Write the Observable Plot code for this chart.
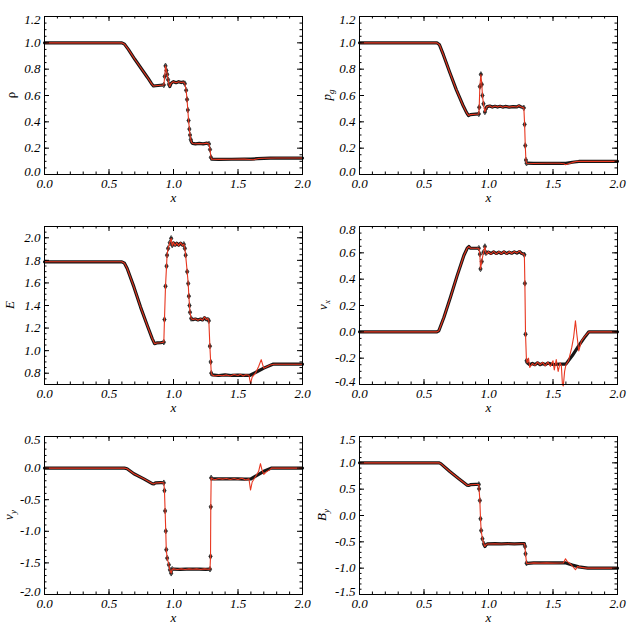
<!DOCTYPE html>
<html><head><meta charset="utf-8">
<script src="https://cdn.jsdelivr.net/npm/d3@7"></script>
<script src="https://cdn.jsdelivr.net/npm/@observablehq/plot@0.6"></script>
<style>
html,body{margin:0;padding:0;background:#fff;}
#grid{position:relative;width:629px;height:629px;overflow:hidden;}
.panel{position:absolute;}
.panel svg{overflow:visible;}
.panel svg text{font-family:'Liberation Serif','Times New Roman',serif;}
</style></head><body><div id="grid"></div>
<script>
// ---------- data ----------
const xTicks = [0, 0.5, 1.0, 1.5, 2.0];

const rhoTicks = [0, 0.2, 0.4, 0.6, 0.8, 1.0, 1.2];
const pgTicks = [0, 0.2, 0.4, 0.6, 0.8, 1.0, 1.2];
const eTicks = [0.8, 1.0, 1.2, 1.4, 1.6, 1.8, 2.0];
const vxTicks = [-0.4, -0.2, 0, 0.2, 0.4, 0.6, 0.8];
const vyTicks = [-2.0, -1.5, -1.0, -0.5, 0, 0.5];
const byTicks = [-1.5, -1.0, -0.5, 0, 0.5, 1.0, 1.5];

const rhoDomain = [0, 1.2];
const pgDomain = [0, 1.2];
const eDomain = [0.7, 2.1];
const vxDomain = [-0.4, 0.8];
const vyDomain = [-2.0, 0.5];
const byDomain = [-1.5, 1.5];

const rhoRed = [[0,1],[0.6,1],[0.62,0.99],[0.65,0.95],[0.7,0.875],[0.75,0.805],[0.8,0.735],[0.83,0.69],[0.845,0.672],[0.86,0.674],[0.9,0.678],[0.925,0.68],[0.932,0.745],[0.938,0.825],[0.945,0.79],[0.951,0.76],[0.958,0.72],[0.965,0.685],[0.971,0.668],[0.98,0.69],[0.99,0.70],[1.0,0.705],[1.02,0.697],[1.04,0.705],[1.06,0.698],[1.075,0.703],[1.088,0.69],[1.098,0.64],[1.105,0.57],[1.111,0.49],[1.117,0.41],[1.123,0.345],[1.128,0.30],[1.134,0.265],[1.14,0.245],[1.148,0.236],[1.17,0.233],[1.2,0.236],[1.23,0.233],[1.26,0.238],[1.275,0.232],[1.283,0.19],[1.29,0.13],[1.296,0.117],[1.35,0.115],[1.45,0.116],[1.55,0.117],[1.59,0.114],[1.62,0.112],[1.66,0.121],[1.7,0.123],[1.8,0.125],[2,0.125]];
const rhoBlack = [[0,1],[0.3,1],[0.6,1],[0.62,0.99],[0.65,0.95],[0.7,0.875],[0.75,0.805],[0.8,0.735],[0.83,0.69],[0.845,0.672],[0.86,0.674],[0.9,0.678],[0.925,0.68],[0.932,0.745],[0.938,0.825],[0.945,0.79],[0.951,0.76],[0.958,0.72],[0.965,0.685],[0.971,0.668],[0.98,0.69],[0.99,0.70],[1.0,0.705],[1.02,0.697],[1.04,0.705],[1.06,0.698],[1.075,0.703],[1.088,0.69],[1.098,0.64],[1.105,0.57],[1.111,0.49],[1.117,0.41],[1.123,0.345],[1.128,0.30],[1.134,0.265],[1.14,0.245],[1.148,0.236],[1.17,0.233],[1.2,0.236],[1.23,0.233],[1.26,0.238],[1.275,0.232],[1.283,0.19],[1.29,0.13],[1.296,0.117],[1.35,0.115],[1.45,0.116],[1.55,0.117],[1.6,0.117],[1.65,0.12],[1.7,0.123],[1.75,0.125],[2,0.125]];

const pgRed = [[0,1],[0.6,1],[0.62,0.985],[0.65,0.91],[0.7,0.775],[0.75,0.645],[0.8,0.53],[0.83,0.47],[0.845,0.448],[0.86,0.455],[0.9,0.458],[0.925,0.46],[0.928,0.51],[0.933,0.668],[0.941,0.76],[0.948,0.684],[0.953,0.6],[0.961,0.537],[0.972,0.475],[0.98,0.50],[0.99,0.516],[1.01,0.522],[1.03,0.51],[1.05,0.52],[1.07,0.512],[1.09,0.52],[1.11,0.51],[1.13,0.518],[1.16,0.512],[1.19,0.517],[1.22,0.513],[1.235,0.524],[1.25,0.515],[1.274,0.506],[1.28,0.38],[1.285,0.22],[1.29,0.11],[1.295,0.086],[1.35,0.084],[1.45,0.085],[1.55,0.085],[1.585,0.082],[1.597,0.074],[1.62,0.082],[1.66,0.094],[1.69,0.1],[1.75,0.1],[2,0.1]];
const pgBlack = [[0,1],[0.3,1],[0.6,1],[0.62,0.985],[0.65,0.91],[0.7,0.775],[0.75,0.645],[0.8,0.53],[0.83,0.47],[0.845,0.448],[0.86,0.455],[0.9,0.458],[0.925,0.46],[0.928,0.51],[0.933,0.668],[0.941,0.76],[0.948,0.684],[0.953,0.6],[0.961,0.537],[0.972,0.475],[0.98,0.50],[0.99,0.516],[1.01,0.52],[1.03,0.512],[1.05,0.518],[1.07,0.512],[1.09,0.518],[1.11,0.512],[1.13,0.517],[1.16,0.512],[1.19,0.516],[1.22,0.513],[1.235,0.522],[1.25,0.515],[1.274,0.506],[1.28,0.38],[1.285,0.22],[1.29,0.11],[1.295,0.086],[1.35,0.084],[1.45,0.085],[1.55,0.085],[1.6,0.085],[1.65,0.093],[1.7,0.099],[1.75,0.1],[2,0.1]];

const eRed = [[0,1.787],[0.6,1.787],[0.62,1.775],[0.641,1.728],[0.693,1.565],[0.744,1.388],[0.796,1.225],[0.835,1.107],[0.853,1.062],[0.87,1.068],[0.9,1.07],[0.925,1.075],[0.93,1.276],[0.938,1.571],[0.946,1.749],[0.95,1.846],[0.958,1.906],[0.971,1.956],[0.982,1.995],[0.99,1.93],[1.0,1.96],[1.012,1.93],[1.025,1.955],[1.04,1.93],[1.055,1.957],[1.07,1.93],[1.08,1.945],[1.088,1.906],[1.094,1.846],[1.106,1.70],[1.114,1.595],[1.119,1.483],[1.124,1.40],[1.128,1.34],[1.137,1.285],[1.15,1.275],[1.17,1.282],[1.19,1.27],[1.21,1.282],[1.225,1.27],[1.24,1.298],[1.255,1.275],[1.265,1.285],[1.274,1.265],[1.282,1.04],[1.288,0.90],[1.293,0.80],[1.3,0.785],[1.32,0.775],[1.35,0.782],[1.38,0.778],[1.41,0.785],[1.44,0.776],[1.47,0.788],[1.5,0.78],[1.52,0.79],[1.54,0.775],[1.56,0.787],[1.585,0.782],[1.597,0.707],[1.61,0.765],[1.635,0.80],[1.66,0.86],[1.68,0.92],[1.69,0.88],[1.70,0.845],[1.72,0.855],[1.75,0.872],[1.78,0.88],[2,0.88]];
const eBlack = [[0,1.787],[0.3,1.787],[0.6,1.787],[0.62,1.775],[0.641,1.728],[0.693,1.565],[0.744,1.388],[0.796,1.225],[0.835,1.107],[0.853,1.062],[0.87,1.068],[0.9,1.07],[0.925,1.075],[0.93,1.276],[0.938,1.571],[0.946,1.749],[0.95,1.846],[0.958,1.906],[0.971,1.956],[0.982,1.995],[0.99,1.935],[1.0,1.955],[1.012,1.935],[1.025,1.952],[1.04,1.935],[1.055,1.952],[1.07,1.935],[1.08,1.942],[1.088,1.906],[1.094,1.846],[1.106,1.70],[1.114,1.595],[1.119,1.483],[1.124,1.40],[1.128,1.34],[1.137,1.285],[1.15,1.275],[1.17,1.28],[1.19,1.272],[1.21,1.28],[1.225,1.272],[1.24,1.292],[1.255,1.275],[1.265,1.282],[1.274,1.265],[1.282,1.04],[1.288,0.90],[1.293,0.80],[1.3,0.785],[1.35,0.78],[1.4,0.785],[1.45,0.78],[1.5,0.783],[1.55,0.78],[1.59,0.78],[1.65,0.815],[1.7,0.845],[1.77,0.88],[2,0.88]];

const vxRed = [[0,0],[0.6,0],[0.615,0.008],[0.654,0.109],[0.705,0.262],[0.757,0.427],[0.809,0.58],[0.835,0.635],[0.848,0.648],[0.86,0.635],[0.9,0.635],[0.925,0.635],[0.933,0.59],[0.938,0.478],[0.948,0.534],[0.961,0.605],[0.972,0.648],[0.98,0.60],[0.99,0.59],[1.0,0.61],[1.02,0.59],[1.04,0.612],[1.06,0.59],[1.08,0.61],[1.1,0.592],[1.12,0.612],[1.14,0.59],[1.16,0.61],[1.18,0.595],[1.2,0.61],[1.22,0.598],[1.24,0.615],[1.255,0.595],[1.272,0.59],[1.278,0.585],[1.282,0.368],[1.287,-0.018],[1.294,-0.21],[1.3,-0.235],[1.31,-0.2],[1.32,-0.27],[1.34,-0.24],[1.36,-0.255],[1.38,-0.23],[1.4,-0.25],[1.42,-0.232],[1.44,-0.258],[1.46,-0.23],[1.48,-0.262],[1.5,-0.22],[1.51,-0.29],[1.525,-0.21],[1.54,-0.3],[1.555,-0.235],[1.565,-0.26],[1.573,-0.40],[1.58,-0.41],[1.59,-0.3],[1.6,-0.25],[1.62,-0.22],[1.645,-0.12],[1.66,-0.04],[1.674,0.084],[1.685,-0.02],[1.7,-0.145],[1.72,-0.07],[1.75,-0.03],[1.778,0],[2,0]];
const vxBlack = [[0,0],[0.3,0],[0.6,0],[0.615,0.008],[0.654,0.109],[0.705,0.262],[0.757,0.427],[0.809,0.58],[0.835,0.635],[0.848,0.648],[0.86,0.635],[0.9,0.635],[0.925,0.635],[0.933,0.59],[0.938,0.478],[0.948,0.534],[0.961,0.605],[0.972,0.648],[0.98,0.60],[1.0,0.605],[1.02,0.595],[1.04,0.607],[1.06,0.595],[1.08,0.605],[1.1,0.595],[1.12,0.607],[1.14,0.595],[1.16,0.605],[1.18,0.597],[1.2,0.607],[1.22,0.598],[1.24,0.61],[1.255,0.597],[1.272,0.59],[1.278,0.585],[1.282,0.368],[1.287,-0.018],[1.295,-0.22],[1.3,-0.235],[1.32,-0.25],[1.34,-0.24],[1.36,-0.25],[1.38,-0.235],[1.4,-0.25],[1.42,-0.24],[1.44,-0.25],[1.46,-0.238],[1.5,-0.248],[1.55,-0.245],[1.6,-0.245],[1.65,-0.18],[1.7,-0.105],[1.75,-0.035],[1.778,0],[2,0]];

const vyRed = [[0,0],[0.62,0],[0.64,-0.01],[0.693,-0.09],[0.77,-0.17],[0.835,-0.245],[0.848,-0.25],[0.86,-0.235],[0.9,-0.23],[0.925,-0.232],[0.93,-0.357],[0.935,-0.677],[0.94,-0.997],[0.944,-1.29],[0.951,-1.424],[0.964,-1.53],[0.972,-1.61],[0.982,-1.664],[0.99,-1.60],[1.0,-1.595],[1.03,-1.605],[1.06,-1.595],[1.09,-1.605],[1.12,-1.595],[1.15,-1.6],[1.18,-1.595],[1.21,-1.605],[1.24,-1.595],[1.27,-1.6],[1.283,-1.6],[1.287,-1.397],[1.289,-0.613],[1.292,-0.155],[1.3,-0.17],[1.32,-0.185],[1.35,-0.165],[1.38,-0.175],[1.41,-0.165],[1.44,-0.18],[1.47,-0.165],[1.5,-0.18],[1.53,-0.16],[1.56,-0.19],[1.585,-0.17],[1.597,-0.347],[1.61,-0.22],[1.64,-0.12],[1.66,-0.05],[1.674,0.07],[1.685,-0.02],[1.7,-0.1],[1.72,-0.06],[1.75,-0.02],[1.76,0],[2,0]];
const vyBlack = [[0,0],[0.3,0],[0.62,0],[0.64,-0.01],[0.693,-0.09],[0.77,-0.17],[0.835,-0.245],[0.848,-0.25],[0.86,-0.235],[0.9,-0.23],[0.925,-0.232],[0.93,-0.357],[0.935,-0.677],[0.94,-0.997],[0.944,-1.29],[0.951,-1.424],[0.964,-1.53],[0.972,-1.61],[0.982,-1.664],[0.99,-1.60],[1.0,-1.597],[1.05,-1.603],[1.1,-1.597],[1.15,-1.6],[1.2,-1.598],[1.25,-1.602],[1.283,-1.6],[1.287,-1.397],[1.289,-0.613],[1.292,-0.155],[1.3,-0.17],[1.35,-0.17],[1.4,-0.17],[1.45,-0.172],[1.5,-0.17],[1.55,-0.175],[1.6,-0.17],[1.65,-0.11],[1.7,-0.05],[1.757,0],[2,0]];

const byRed = [[0,1],[0.615,1],[0.63,0.985],[0.7,0.835],[0.77,0.697],[0.835,0.575],[0.845,0.57],[0.86,0.585],[0.9,0.59],[0.925,0.59],[0.927,0.506],[0.933,0.285],[0.938,-0.063],[0.943,-0.285],[0.953,-0.443],[0.964,-0.538],[0.972,-0.589],[0.98,-0.56],[0.99,-0.54],[1.05,-0.535],[1.1,-0.54],[1.15,-0.535],[1.2,-0.54],[1.25,-0.535],[1.278,-0.535],[1.283,-0.589],[1.287,-0.728],[1.295,-0.905],[1.3,-0.91],[1.35,-0.9],[1.4,-0.905],[1.45,-0.9],[1.5,-0.905],[1.55,-0.903],[1.58,-0.9],[1.597,-0.823],[1.61,-0.87],[1.64,-0.93],[1.674,-1.03],[1.69,-0.97],[1.72,-0.985],[1.76,-1.0],[2,-1]];
const byBlack = [[0,1],[0.3,1],[0.615,1],[0.63,0.985],[0.7,0.835],[0.77,0.697],[0.835,0.575],[0.845,0.57],[0.86,0.585],[0.9,0.59],[0.925,0.59],[0.927,0.506],[0.933,0.285],[0.938,-0.063],[0.943,-0.285],[0.953,-0.443],[0.964,-0.538],[0.972,-0.589],[0.98,-0.56],[0.99,-0.54],[1.05,-0.535],[1.1,-0.54],[1.15,-0.535],[1.2,-0.54],[1.25,-0.535],[1.278,-0.535],[1.283,-0.589],[1.287,-0.728],[1.295,-0.905],[1.3,-0.91],[1.35,-0.9],[1.45,-0.9],[1.55,-0.9],[1.6,-0.9],[1.65,-0.94],[1.7,-0.975],[1.77,-1.0],[2,-1]];

// ---------- drawing ----------
const panels = [
  {red: rhoRed, black: rhoBlack, domain: rhoDomain, ticks: rhoTicks, minor: 0.05, title: "ρ", sub: null, italic: false, tx: 15, col: 0, row: 0},
  {red: pgRed, black: pgBlack, domain: pgDomain, ticks: pgTicks, minor: 0.05, title: "p", sub: "g", italic: true, tx: 17, col: 1, row: 0},
  {red: eRed, black: eBlack, domain: eDomain, ticks: eTicks, minor: 0.05, title: "E", sub: null, italic: true, tx: 14, col: 0, row: 1},
  {red: vxRed, black: vxBlack, domain: vxDomain, ticks: vxTicks, minor: 0.05, title: "v", sub: "x", italic: true, tx: 13, col: 1, row: 1},
  {red: vyRed, black: vyBlack, domain: vyDomain, ticks: vyTicks, minor: 0.1, title: "v", sub: "y", italic: true, tx: 13, col: 0, row: 2},
  {red: byRed, black: byBlack, domain: byDomain, ticks: byTicks, minor: 0.1, title: "B", sub: "y", italic: true, tx: 12, col: 1, row: 2}
];

const FONT = "'Liberation Serif', 'Times New Roman', serif";
const FS = 13;
const fmt = d => d.toFixed(1);
const grid = document.getElementById("grid");

function stepTicks(lo, hi, step) {
  const out = [];
  const n0 = Math.ceil(lo / step - 1e-9), n1 = Math.floor(hi / step + 1e-9);
  for (let i = n0; i <= n1; i++) out.push(+(i * step).toFixed(6));
  return out;
}

for (const p of panels) {
  const W = p.col === 0 ? 314 : 315;
  const H = p.row === 2 ? 209 : 210;
  const mL = p.col === 0 ? 44 : 45, mR = 12, mT = 16;
  const plotH = 158, plotW = W - mL - mR;
  const mB = H - mT - plotH;
  const [y0, y1] = p.domain;
  const pxY = plotH / (y1 - y0), pxX = plotW / 2;

  // break the thick black band where neighbouring samples jump apart
  let seg = 0;
  const black = p.black.map((d, i) => {
    if (i > 0) {
      const q = p.black[i - 1];
      const dy = Math.abs(d[1] - q[1]) * pxY, dx = Math.abs(d[0] - q[0]) * pxX;
      if (dy > 3 && dx < 1.7) seg++;
    }
    return {x: d[0], y: d[1], seg};
  });
  // separate sample markers are only visible where the band is broken
  const markers = black.filter((d, i) =>
    (i > 0 && black[i - 1].seg !== d.seg) || (i < black.length - 1 && black[i + 1].seg !== d.seg));
  const red = p.red.map(d => ({x: d[0], y: d[1]}));

  const xMinor = stepTicks(0, 2, 0.1);
  const yMinor = stepTicks(y0, y1, p.minor);
  const yMajor = p.ticks;
  const big = 5, small = 2.5;
  const interior = yMajor.filter(t => Math.abs(t - y0) > 1e-6 && Math.abs(t - y1) > 1e-6);
  const topT = yMajor.filter(t => Math.abs(t - y1) <= 1e-6);
  const botT = yMajor.filter(t => Math.abs(t - y0) <= 1e-6);
  const txt = {fontFamily: FONT, fontStyle: "italic", fontSize: FS};

  const svg = Plot.plot({
    width: W, height: H,
    marginLeft: mL, marginRight: mR, marginTop: mT, marginBottom: mB,
    x: {domain: [0, 2]},
    y: {domain: p.domain},
    style: `font-family:${FONT};font-style:italic;font-size:${FS}px;background:white;color:#000;overflow:visible;`,
    marks: [
      Plot.line(black, {x: "x", y: "y", z: "seg", stroke: "#161616", strokeWidth: 3.2}),
      Plot.dot(markers, {x: "x", y: "y", symbol: "diamond", r: 1.7, stroke: "#3a3a3a", strokeWidth: 0.9, fill: "none"}),
      Plot.line(red, {x: "x", y: "y", stroke: "#e8361f", strokeWidth: 1.1}),
      // tick marks, inward on all four sides
      Plot.tickX(xMinor, {x: d => d, insetTop: plotH - small, stroke: "#000"}),
      Plot.tickX(xMinor, {x: d => d, insetBottom: plotH - small, stroke: "#000"}),
      Plot.tickX(xTicks, {x: d => d, insetTop: plotH - big, stroke: "#000"}),
      Plot.tickX(xTicks, {x: d => d, insetBottom: plotH - big, stroke: "#000"}),
      Plot.tickY(yMinor, {y: d => d, insetRight: plotW - small, stroke: "#000"}),
      Plot.tickY(yMinor, {y: d => d, insetLeft: plotW - small, stroke: "#000"}),
      Plot.tickY(yMajor, {y: d => d, insetRight: plotW - big, stroke: "#000"}),
      Plot.tickY(yMajor, {y: d => d, insetLeft: plotW - big, stroke: "#000"}),
      Plot.frame({stroke: "#000", strokeWidth: 1}),
      Plot.axisX(xTicks, {tickSize: 0, tickPadding: 4, tickFormat: fmt, label: null, ...txt}),
      Plot.axisY(interior, {tickSize: 0, tickPadding: 4, tickFormat: fmt, label: null, ...txt}),
      Plot.axisY(topT, {tickSize: 0, tickPadding: 4, tickFormat: fmt, label: null, ...txt, dy: 3}),
      Plot.axisY(botT, {tickSize: 0, tickPadding: 4, tickFormat: fmt, label: null, ...txt, dy: -3}),
      Plot.text(["x"], {frameAnchor: "bottom", dy: 27, text: d => d, ...txt})
    ]
  });

  // y-axis title with subscript
  const t = d3.select(svg).append("text")
    .attr("transform", `translate(${p.tx},${mT + plotH / 2}) rotate(-90)`)
    .attr("text-anchor", "middle")
    .style("font-family", FONT)
    .style("font-size", FS + "px")
    .style("font-style", p.italic ? "italic" : "normal")
    .attr("fill", "#000");
  t.append("tspan").text(p.title);
  if (p.sub) t.append("tspan").attr("dy", 3).style("font-size", "9px").text(p.sub);

  const wrap = document.createElement("div");
  wrap.className = "panel";
  wrap.style.left = (p.col === 0 ? 0 : 314) + "px";
  wrap.style.top = (p.row * 210) + "px";
  wrap.appendChild(svg);
  grid.appendChild(wrap);
}
</script>
</body></html>
